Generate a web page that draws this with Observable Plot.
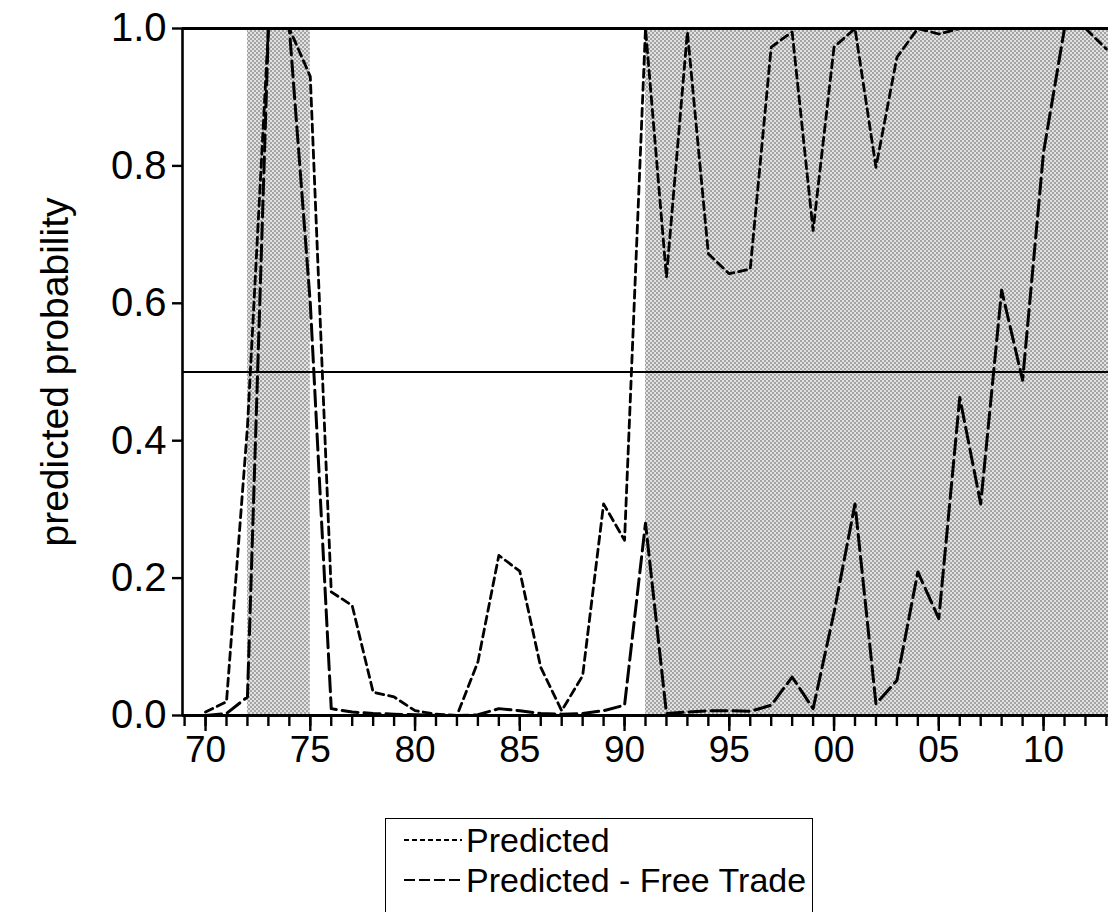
<!DOCTYPE html>
<html>
<head>
<meta charset="utf-8">
<script src="https://cdn.jsdelivr.net/npm/d3@7"></script>
<script src="https://cdn.jsdelivr.net/npm/@observablehq/plot@0.6"></script>
<style>
  html, body { margin: 0; padding: 0; background: #fff; overflow: hidden; }
  body { width: 1108px; height: 912px; position: relative; font-family: "Liberation Sans", Arial, Helvetica, sans-serif; }
  #legend { position: absolute; left: 385px; top: 818px; width: 428px; height: 110px; border: 1.5px solid #000; box-sizing: border-box; }
  .row { position: absolute; left: 0; height: 38px; display: flex; align-items: center; white-space: nowrap; }
  .row svg { margin-left: 18px; margin-right: 4px; }
  .row span { font-size: 34px; color: #000; }
</style>
</head>
<body>
<div id="chart"></div>
<div id="legend">
  <div class="row" style="top:2px"><svg width="58" height="10"><line x1="0" x2="58" y1="5" y2="5" stroke="#000" stroke-width="2" stroke-dasharray="5,3"/></svg><span>Predicted</span></div>
  <div class="row" style="top:42px"><svg width="58" height="10"><line x1="0" x2="58" y1="5" y2="5" stroke="#000" stroke-width="2" stroke-dasharray="11,4"/></svg><span>Predicted - Free Trade</span></div>
</div>
<script>
const years = d3.range(1970, 2014);
const predicted = [0.005, 0.02, 0.42, 1.0, 1.0, 0.93, 0.18, 0.16, 0.034, 0.027,
  0.007, 0.002, 0.0, 0.078, 0.233, 0.21, 0.07, 0.007, 0.058, 0.308,
  0.255, 1.0, 0.638, 0.995, 0.672, 0.643, 0.65, 0.973, 0.995, 0.706,
  0.973, 1.0, 0.798, 0.958, 1.0, 0.992, 1.0, 1.0, 1.0, 1.0,
  1.0, 1.0, 1.0, 0.97];
const freeTrade = [0.0, 0.003, 0.027, 1.0, 1.0, 0.6, 0.01, 0.005, 0.003, 0.002,
  0.001, 0.0, 0.0, 0.001, 0.01, 0.007, 0.003, 0.002, 0.003, 0.007,
  0.015, 0.28, 0.003, 0.005, 0.007, 0.007, 0.006, 0.015, 0.056, 0.01,
  0.15, 0.308, 0.017, 0.051, 0.209, 0.141, 0.463, 0.308, 0.619, 0.488,
  0.82, 1.0, 1.0, 1.0];
const shadeStart = [1972, 1991];
const shadeEnd = [1975, 2013.1];
const xDomain = [1968.9, 2013.1];
const majorTicks = d3.range(1970, 2014, 5);
const minorTicks = d3.range(1969, 2014);
const yTicks = [0, 0.2, 0.4, 0.6, 0.8, 1.0];
const threshold = 0.5;

const shades = shadeStart.map((s, i) => ({x1: s, x2: shadeEnd[i]}));
const predData = years.map((y, i) => ({year: y, v: predicted[i]}));
const ftData = years.map((y, i) => ({year: y, v: freeTrade[i]}));

const chart = Plot.plot({
  width: 1108,
  height: 790,
  marginLeft: 182,
  marginRight: 0,
  marginTop: 28,
  marginBottom: 75,
  style: {fontFamily: '"Liberation Sans", Arial, Helvetica, sans-serif', fontSize: "37px", background: "#fff", color: "#000"},
  x: {domain: xDomain},
  y: {domain: [0, 1]},
  marks: [
    Plot.rectY(shades, {x1: "x1", x2: "x2", y1: 0, y2: 1, fill: "url(#halftone)"}),
    Plot.ruleY([threshold], {stroke: "#000", strokeWidth: 1.8}),
    Plot.line(predData, {x: "year", y: "v", stroke: "#000", strokeWidth: 2.8, strokeDasharray: "8,5"}),
    Plot.line(ftData, {x: "year", y: "v", stroke: "#000", strokeWidth: 3, strokeDasharray: "16,6"}),
    Plot.ruleY([1], {stroke: "#000", strokeWidth: 3.2}),
    Plot.ruleY([0], {stroke: "#000", strokeWidth: 3.2}),
    Plot.ruleX([xDomain[0]], {stroke: "#000", strokeWidth: 2.6}),
    Plot.axisX({ticks: minorTicks, tickSize: 11, tickFormat: () => "", strokeWidth: 2.4}),
    Plot.axisX({ticks: majorTicks, tickSize: 16, strokeWidth: 2.4, tickPadding: 4,
      tickFormat: d => String(d % 100).padStart(2, "0"), label: null}),
    Plot.axisY({ticks: yTicks, tickSize: 10, strokeWidth: 2.4, tickPadding: 6, fontSize: 40,
      tickFormat: d3.format(".1f"), label: null}),
    Plot.text(["predicted probability"], {frameAnchor: "left", textAnchor: "middle", rotate: -90, dx: -127, fontSize: 39, fill: "#000"})
  ]
});

// y tick labels slightly larger, as in the reference
chart.querySelectorAll('[aria-label="y-axis tick label"] text, [aria-label="y-axis tick label"]').forEach(el => el.setAttribute("font-size", 40));

const ns = "http://www.w3.org/2000/svg";
const defs = document.createElementNS(ns, "defs");
defs.innerHTML = `<pattern id="halftone" width="4" height="4" patternUnits="userSpaceOnUse">
  <rect width="4" height="4" fill="#e2e2e2"/>
  <rect x="0" y="0" width="2" height="2" fill="#a4a4a4"/>
  <rect x="2" y="2" width="2" height="2" fill="#a4a4a4"/>
</pattern>`;
chart.insertBefore(defs, chart.firstChild);
document.getElementById("chart").appendChild(chart);
</script>
</body>
</html>
